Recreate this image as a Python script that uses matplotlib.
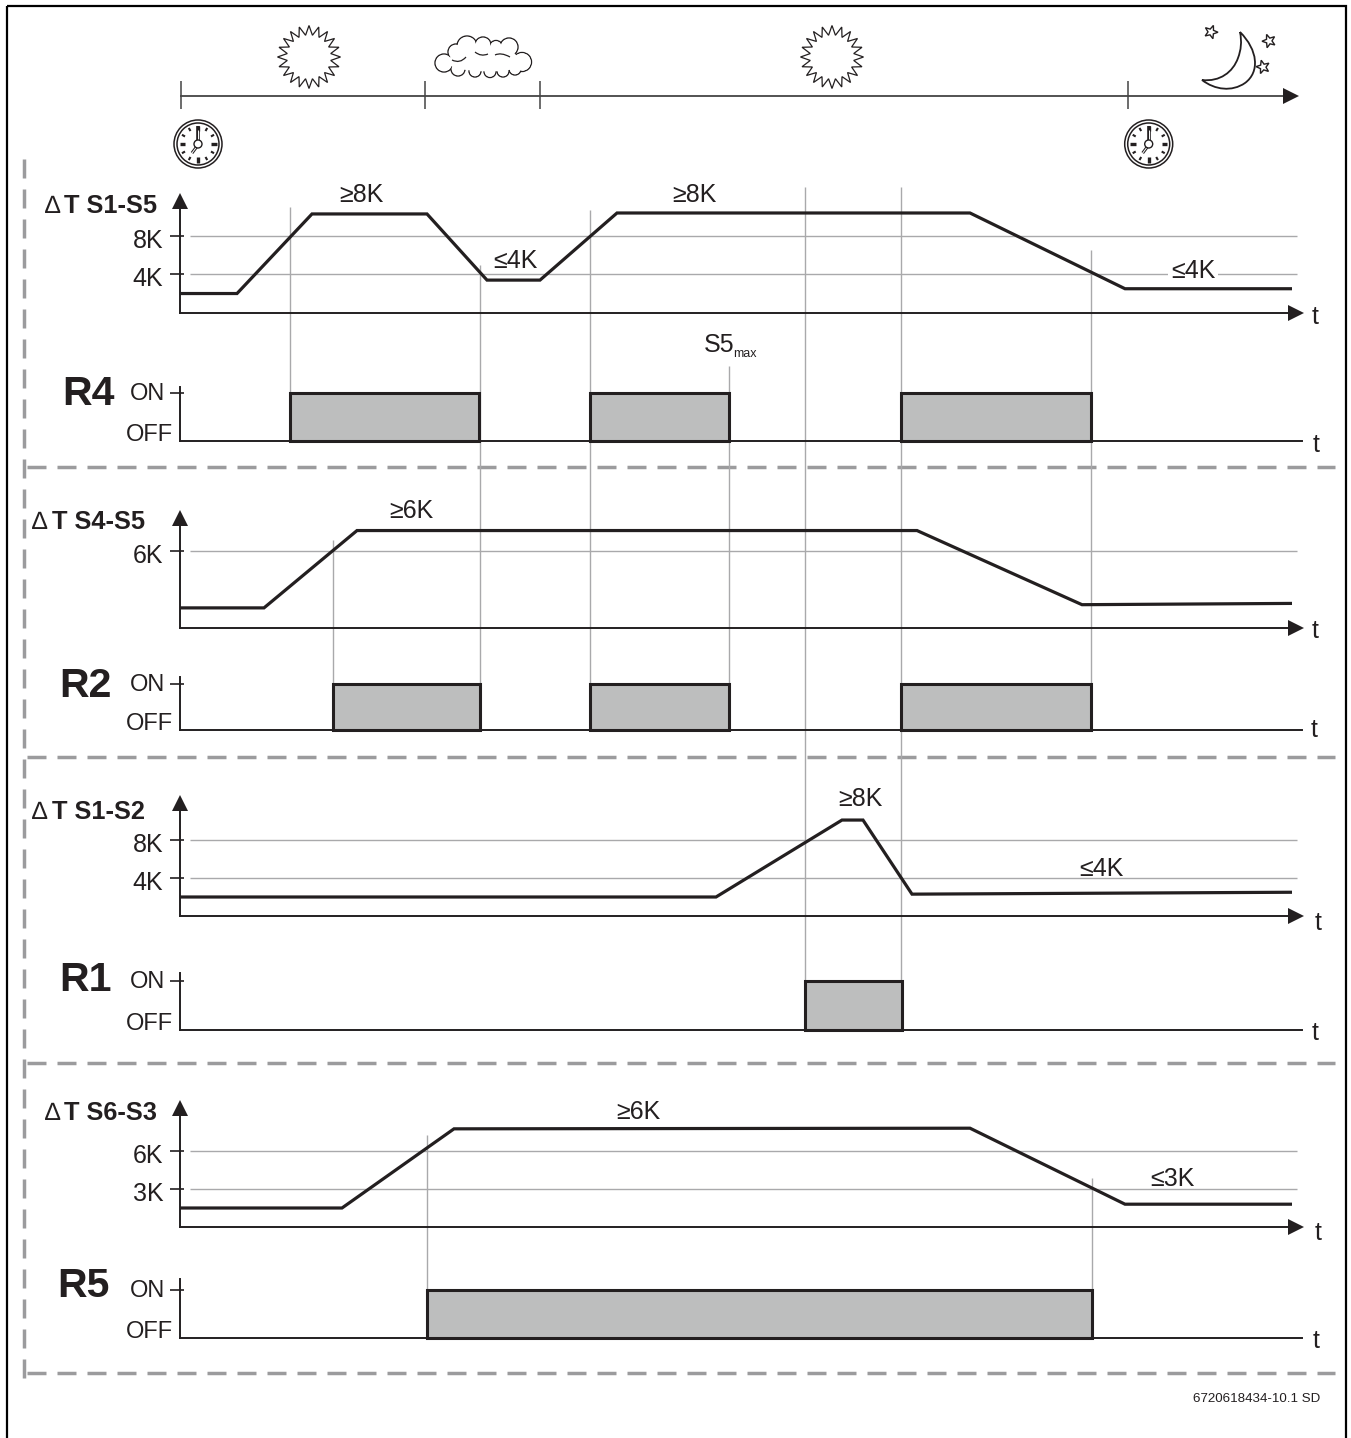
import numpy as np
import matplotlib
matplotlib.use("Agg")
import matplotlib.pyplot as plt
from matplotlib.patches import Circle, PathPatch, Rectangle, Polygon
from matplotlib.path import Path
from matplotlib.transforms import ScaledTranslation

plt.rcParams['font.family'] = ['Liberation Sans', 'DejaVu Sans']

W, H = 1351, 1438
INK = '#231f20'
GUIDE = '#a9a9ab'
DASH = '#9b9b9d'
FILL = '#bdbebe'

# ---- data: time (t), temperature difference (K) ----
t_s1s5 = [180, 237, 312, 427, 487, 540, 617, 970, 1125, 1292]
v_s1s5 = [2.0, 2.0, 10.3, 10.3, 3.4, 3.4, 10.4, 10.4, 2.5, 2.5]
t_s4s5 = [180, 264, 357, 917, 1082, 1292]
v_s4s5 = [1.55, 1.55, 7.6, 7.6, 1.8, 1.9]
t_s1s2 = [180, 716, 842, 863, 912, 1292]
v_s1s2 = [2.0, 2.0, 10.1, 10.1, 2.3, 2.5]
t_s6s3 = [180, 342, 454, 970, 1125, 1292]
v_s6s3 = [1.5, 1.5, 7.75, 7.8, 1.8, 1.8]

thr_s1s5 = [8, 4]
thr_s4s5 = [6]
thr_s1s2 = [8, 4]
thr_s6s3 = [6, 3]

on_r4 = [(290, 479), (590, 729), (901, 1091)]
on_r2 = [(333, 480), (590, 729), (901, 1091)]
on_r1 = [(805, 902)]
on_r5 = [(427, 1092)]

names = ['S1-S5', 'S4-S5', 'S1-S2', 'S6-S3']
relays = ['R4', 'R2', 'R1', 'R5']

guide_t = [290, 333, 427, 480, 590, 729, 805, 901, 1091, 1092]
guide_from = [207, 540, 1135, 265, 210, 366, 187, 187, 250, 1178]
guide_to = [393, 684, 1291, 684, 684, 684, 981, 981, 684, 1291]

day_ticks = [181, 425, 540, 1128]

fig = plt.figure(figsize=(W / 100, H / 100), dpi=100, facecolor='white')
bg = fig.add_axes([0, 0, 1, 1])
bg.set_xlim(0, W)
bg.set_ylim(H, 0)
bg.axis('off')


def label(ax, x, y, s, **kw):
    kw.setdefault('va', 'baseline')
    kw.setdefault('color', INK)
    ax.text(x, y, s, transform=bg.transData, **kw)


def offset(dy):
    return ScaledTranslation(0, -dy / 100, fig.dpi_scale_trans)


def sub_axes(left, right, top, bottom):
    ax = fig.add_axes([left / W, 1 - bottom / H, (right - left) / W, (bottom - top) / H])
    ax.patch.set_alpha(0)
    for s in ('top', 'right'):
        ax.spines[s].set_visible(False)
    for s in ('left', 'bottom'):
        ax.spines[s].set_linewidth(1.4)
        ax.spines[s].set_color(INK)
    ax.set_xticks([])
    return ax


def signal_panel(ts, vs, thr, y_base, y_thr0, y_top):
    scale = (y_base - y_thr0) / thr[0]
    ax = sub_axes(180, 1296, y_top, y_base)
    ax.set_xlim(180, 1296)
    ax.set_ylim(0, (y_base - y_top) / scale)
    ax.plot(ts, vs, color=INK, lw=2.3, solid_joinstyle='miter', solid_capstyle='butt', zorder=4,
            clip_on=False)
    ax.hlines(thr, 190, 1297, color=GUIDE, lw=1.0, zorder=1, clip_on=False)
    ax.hlines(thr, 170, 184, color=INK, lw=1.2, zorder=3, clip_on=False)
    ax.plot(1, 0, '>', transform=ax.transAxes, color=INK, ms=11, mew=0, clip_on=False, zorder=5)
    ax.plot(0, 1, '^', transform=ax.transAxes, color=INK, ms=11, mew=0, clip_on=False, zorder=5)
    ax.set_yticks(thr)
    ax.set_yticklabels([f'{v}K' for v in thr], fontsize=18, color=INK, va='baseline')
    ax.tick_params(axis='y', length=0, pad=12)
    for tl in ax.get_yticklabels():
        tl.set_transform(tl.get_transform() + offset(12))
    return ax


def relay_panel(spans, y_base, y_on, y_top):
    scale = y_base - y_on
    ax = sub_axes(180, 1302, y_top, y_base)
    ax.set_xlim(180, 1302)
    ax.set_ylim(0, (y_base - y_top) / scale)
    for a, b in spans:
        ax.bar(a, 1, width=b - a, align='edge', color=FILL, edgecolor=INK, lw=2.2, zorder=4,
               clip_on=False)
    ax.hlines([1], 170, 184, color=INK, lw=1.2, clip_on=False)
    ax.set_yticks([0, 1])
    ax.set_yticklabels(['OFF', 'ON'], fontsize=17, color=INK, va='baseline')
    ax.tick_params(axis='y', length=0)
    ticks = ax.yaxis.get_major_ticks()
    ticks[0].set_pad(5.2)
    ticks[1].set_pad(10.8)
    ticks[1].label1.set_transform(ticks[1].label1.get_transform() + offset(7))
    return ax


# ---- frame, dashes, guides ----
bg.add_patch(Rectangle((6.5, 6), 1339.5, 1450, fc='none', ec='black', lw=1.6, clip_on=False))
for y in (467, 757, 1063, 1373):
    bg.plot([27, 1335], [y, y], color=DASH, lw=2.5, dashes=(5.47, 3.17), dash_capstyle='butt')
bg.plot([23.5, 23.5], [1378, 150], color=DASH, lw=2.5, dashes=(5.47, 3.17), dash_capstyle='butt')
bg.vlines(guide_t, guide_from, guide_to, color=GUIDE, lw=1.0)
bg.vlines([480, 590, 729, 1091], 684, 730, color=GUIDE, lw=1.0)

# ---- time line ----
bg.plot([181, 1287], [96, 96], color='#444444', lw=1.3)
bg.vlines(day_ticks, 81, 109, color='#444444', lw=1.1)
bg.plot([1291], [96], '>', color=INK, ms=11, mew=0)


def sun(cx, cy):
    n = 20
    ang = np.linspace(0, 2 * np.pi, 2 * n, endpoint=False)
    r = np.where(np.arange(2 * n) % 2 == 0, 31.5, 22)
    bg.fill(cx + r * np.cos(ang), cy + r * np.sin(ang), fc='white', ec=INK, lw=0.9)


def clock(cx, cy):
    bg.add_patch(Circle((cx, cy), 24, fc='white', ec=INK, lw=1.1))
    bg.add_patch(Circle((cx, cy), 21, fc='white', ec=INK, lw=1.1))
    for i in range(12):
        a = i * np.pi / 6
        r0 = 13 if i % 3 == 0 else 15
        lw = 2.4 if i % 3 == 0 else 1.5
        bg.plot([cx + r0 * np.sin(a), cx + 18.5 * np.sin(a)], [cy - r0 * np.cos(a), cy - 18.5 * np.cos(a)],
                color=INK, lw=lw, solid_capstyle='butt')
    bg.plot([cx, cx], [cy - 18, cy - 3], color=INK, lw=2.6, solid_capstyle='butt')
    bg.plot([cx, cx], [cy - 14, cy - 3], color='white', lw=0.7, solid_capstyle='butt')
    bg.plot([cx - 1.5, cx - 6], [cy + 3, cy + 9], color=INK, lw=2.2, solid_capstyle='butt')
    bg.plot([cx - 1.5, cx - 6], [cy + 3, cy + 9], color='white', lw=0.7, solid_capstyle='butt')
    bg.add_patch(Circle((cx, cy), 4, fc='white', ec=INK, lw=1.0, zorder=3))


def cloud():
    bumps = [(444, 63, 9), (456, 52, 8), (467, 46, 10), (483, 45, 8), (496, 47, 6.5), (509, 47, 9),
             (522, 62, 9.5), (515, 69, 6), (503, 71, 6), (490, 71.5, 6), (475, 71, 6), (458, 69, 7)]
    for x, y, r in bumps:
        bg.add_patch(Circle((x, y), r, fc='white', ec=INK, lw=1.0, zorder=2))
    bg.add_patch(Polygon([(x, y) for x, y, r in bumps], closed=True, fc='white', ec='none', zorder=2.1))
    for x, y, r in bumps:
        bg.add_patch(Circle((x, y), r - 0.8, fc='white', ec='none', zorder=2.1))
    for x0, y0, x1, y1, x2, y2 in [(452, 60, 460, 64, 466, 57), (475, 52, 481, 57, 488, 54),
                                    (495, 55, 501, 52, 510, 57)]:
        p = Path([(x0, y0), (x1, y1), (x2, y2)], [Path.MOVETO, Path.CURVE3, Path.CURVE3])
        bg.add_patch(PathPatch(p, fc='none', ec=INK, lw=0.9, zorder=2.2))


def moon():
    v = [(1240, 32), (1258, 50), (1260, 72), (1245, 83), (1232, 92), (1215, 90), (1202, 80),
         (1220, 82), (1233, 72), (1238, 58), (1241, 50), (1242, 42), (1240, 32)]
    c = [Path.MOVETO] + [Path.CURVE4] * 12
    bg.add_patch(PathPatch(Path(v, c), fc='white', ec=INK, lw=1.3))


def star(cx, cy, rot):
    ang = np.radians(rot) + np.arange(10) * np.pi / 5
    r = np.where(np.arange(10) % 2 == 0, 7, 3)
    bg.fill(cx + r * np.sin(ang), cy - r * np.cos(ang), fc='white', ec=INK, lw=1.0)


sun(309, 57)
sun(832, 57)
cloud()
moon()
star(1211, 32, 20)
star(1269, 41, -20)
star(1263, 67, -15)
clock(198, 144)
clock(1148.7, 144)

# ---- panels ----
p1 = signal_panel(t_s1s5, v_s1s5, thr_s1s5, 312.7, 236, 201)
r4 = relay_panel(on_r4, 441, 393, 387)
p2 = signal_panel(t_s4s5, v_s4s5, thr_s4s5, 627.7, 551, 518)
r2 = relay_panel(on_r2, 729.7, 684, 677)
p3 = signal_panel(t_s1s2, v_s1s2, thr_s1s2, 916, 840, 803)
r1 = relay_panel(on_r1, 1030, 981, 973)
p4 = signal_panel(t_s6s3, v_s6s3, thr_s6s3, 1227, 1151, 1108)
r5 = relay_panel(on_r5, 1338, 1290, 1279)

# ---- titles ----
for name, x_d, x_r, y in zip(names, [45, 32, 32, 45], [157, 145, 145, 157], [212.7, 529, 819, 1120]):
    label(bg, x_d, y, '\u2206', fontsize=18, fontweight='normal')
    label(bg, x_r, y, 'T ' + name, fontsize=18.3, fontweight='bold', ha='right')
for name, x, y in zip(relays, [62, 59, 59, 57], [405, 697, 991, 1297]):
    label(bg, x, y, name, fontsize=29.5, fontweight='bold')

# ---- condition labels ----
label(p1, 339, 202, '\u22658K', fontsize=18)
label(p1, 672, 202, '\u22658K', fontsize=18)
label(p1, 493, 268, '\u22644K', fontsize=18)
label(p1, 1171, 278, '\u22644K', fontsize=18, bbox=dict(fc='white', ec='none', pad=2), zorder=2)
label(p2, 389, 518, '\u22656K', fontsize=18)
label(p3, 838, 806, '\u22658K', fontsize=18)
label(p3, 1079, 876, '\u22644K', fontsize=18)
label(p4, 616, 1119, '\u22656K', fontsize=18)
label(p4, 1150, 1186, '\u22643K', fontsize=18)

label(bg, 704, 352, 'S5', fontsize=18)
label(bg, 733, 357, 'max', fontsize=9)

for x, y in zip([1315, 1316, 1315, 1314, 1318, 1315, 1318, 1316],
                [324, 452, 638, 737, 930, 1040, 1240, 1348]):
    label(bg, x, y, 't', fontsize=18, ha='center')

label(bg, 1320, 1402, '6720618434-10.1 SD', fontsize=9.6, ha='right')

fig.savefig('out.png', dpi=100, facecolor='white')
